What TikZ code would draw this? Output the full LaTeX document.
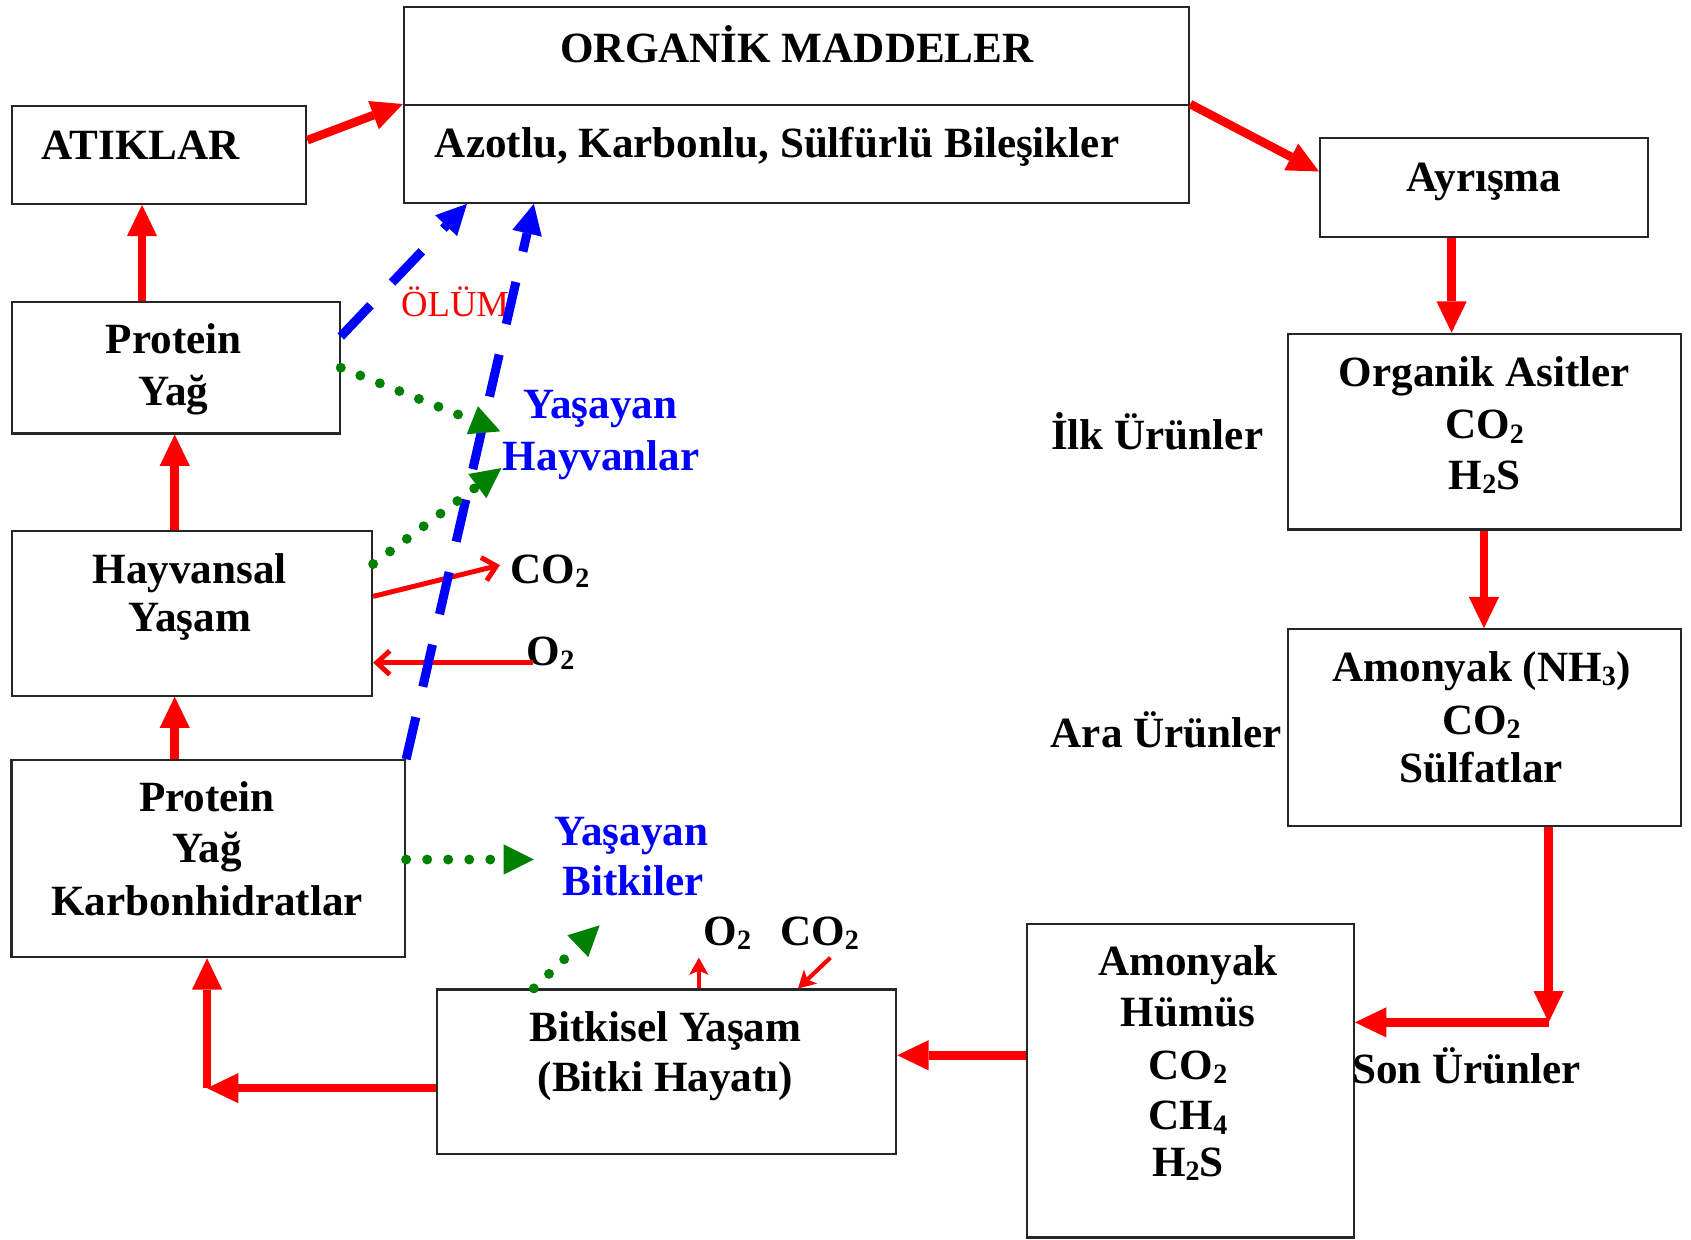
\documentclass[tikz,border=0pt]{standalone}
\usepackage{fontspec}
\setmainfont{Liberation Serif}
\usetikzlibrary{arrows.meta,fit}
\newcommand\chsub[1]{\raisebox{-2pt}{\fontsize{13pt}{13pt}\selectfont #1}}
\begin{document}
\begin{tikzpicture}[x=0.5pt,y=-0.5pt,
  box/.style={draw=black!85, line width=1pt, inner sep=0pt},
  lbl/.style={anchor=base, inner sep=0pt, font=\fontsize{20pt}{23pt}\selectfont\bfseries},
  lblw/.style={lbl, anchor=base west},
  blbl/.style={lbl, text=blue},
  redthick/.style={draw=red, line width=4pt, -{Triangle[length=14.5pt,width=14pt,line width=0pt]}},
  redthin/.style={draw=red, line width=2.3pt, -{Straight Barb[length=6pt,width=11pt]}},
  redsmall/.style={draw=red, line width=1.9pt, -{Stealth[length=8pt,width=9pt,inset=2pt,line width=0pt]}},
  bluedash/.style={draw=blue, line width=4.2pt, dash pattern=on 20pt off 14.5pt, -{Triangle[length=14pt,width=14pt,line width=0pt]}},
  greendot/.style={draw=green!50!black, line width=4.6pt, line cap=round, dash pattern=on 0pt off 9.75pt, -{Triangle[length=14pt,width=14pt,line width=0pt]}},
]
\fill[white] (0,0) rectangle (1568,1149);
\useasboundingbox (0,0) rectangle (1568,1149);

% boxes
\node[box, fit={(374.5,6.5) (1102.6,97.5)}] (orgA) {};
\node[box, fit={(374.5,97.5) (1102.6,188)}] (orgB) {};
\node[box, fit={(11,98) (284,189)}] (atik) {};
\node[box, fit={(1224,128) (1528,219.5)}] (ayr) {};
\node[box, fit={(1194.5,309.5) (1559,491)}] (oas) {};
\node[box, fit={(1194.5,583.5) (1559,766)}] (nh3) {};
\node[box, fit={(952,857) (1255.5,1147.5)}] (hum) {};
\node[box, fit={(405,917.5) (831,1070)}] (bit) {};
\node[box, fit={(10.7,705) (375.6,887.6)}] (pyk) {};
\node[box, fit={(11,492.5) (345,645)}] (hay) {};
\node[box, fit={(11,280) (315,402)}] (py) {};

% texts
\node[lbl] (tOrg) at (739,58) {ORGANİK MADDELER};
\node[lbl] (tAzot) at (720.5,146) {Azotlu, Karbonlu, Sülfürlü Bileşikler};
\node[lbl] (tAtik) at (130.7,148) {ATIKLAR};
\node[lbl] (tAyr) at (1376,178) {Ayrışma};
\node[lbl] (tOas1) at (1376.5,358) {Organik Asitler};
\node[lbl] (tOas2) at (1376.5,407) {CO\chsub{2}};
\node[lbl] (tOas3) at (1376.5,453.6) {H\chsub{2}S};
\node[lbl] (tIlk) at (1073,416.6) {İlk Ürünler};
\node[lbl] (tNh1) at (1373.6,632) {Amonyak (NH\chsub{3})};
\node[lbl] (tNh2) at (1373.6,681) {CO\chsub{2}};
\node[lbl] (tNh3) at (1373.6,726) {Sülfatlar};
\node[lbl] (tAra) at (1081.5,693) {Ara Ürünler};
\node[lbl] (tHu1) at (1101.5,905) {Amonyak};
\node[lbl] (tHu2) at (1101.5,952) {Hümüs};
\node[lbl] (tHu3) at (1101.5,1000.6) {CO\chsub{2}};
\node[lbl] (tHu4) at (1101.5,1047.8) {CH\chsub{4}};
\node[lbl] (tHu5) at (1101.5,1090.6) {H\chsub{2}S};
\node[lbl] (tSon) at (1360,1005) {Son Ürünler};
\node[lbl] (tBit1) at (617,966) {Bitkisel Yaşam};
\node[lbl] (tBit2) at (617,1012) {(Bitki Hayatı)};
\node[lbl] (tPk1) at (192,752.7) {Protein};
\node[lbl] (tPk2) at (192,800) {Yağ};
\node[lbl] (tPk3) at (192,848.5) {Karbonhidratlar};
\node[lbl] (tHay1) at (176,540.6) {Hayvansal};
\node[lbl] (tHay2) at (176,585.8) {Yaşam};
\node[lbl] (tPy1) at (161,327.6) {Protein};
\node[lbl] (tPy2) at (161,375.6) {Yağ};
\node[anchor=base, inner sep=0pt, text=red, font=\fontsize{17pt}{20pt}\selectfont] (tOlum) at (422,293.6) {ÖLÜM};
\node[blbl] (tYas1) at (557,387.8) {Yaşayan};
\node[blbl] (tHayv) at (557.5,436) {Hayvanlar};
\node[blbl] (tYas2) at (585.5,783.6) {Yaşayan};
\node[blbl] (tBitk) at (587,830) {Bitkiler};
\node[lblw] (tCOa) at (473,540.8) {CO\chsub{2}};
\node[lblw] (tO2a) at (488,616.7) {O\chsub{2}};
\node[lblw] (tO2b) at (652,876.3) {O\chsub{2}};
\node[lblw] (tCOb) at (723,876.3) {CO\chsub{2}};

% free ends
\coordinate (k1) at (1436,948);
\coordinate (k2) at (192,1009);
\coordinate (g1) at (464,400);
\coordinate (g2) at (465,434);
\coordinate (g3) at (495,797);
\coordinate (g4) at (556,858);

% thick red flow
\draw[redthick] (atik.east |- 0,130) -- (orgB.north west);
\draw[redthick] (orgB.north east) -- (ayr.west |- 0,159);
\draw[redthick] (ayr.south -| 1346,0) -- (oas.north -| 1346,0);
\draw[redthick] (oas.south -| 1376,0) -- (nh3.north -| 1376,0);
\draw[redthick] (nh3.south -| k1) -- (k1);
\draw[redthick] (k1) -- (hum.east |- k1);
\draw[redthick] (hum.west |- 0,978.5) -- (bit.east |- 0,978.5);
\draw[redthick] (bit.west |- k2) -- (k2);
\draw[redthick] (k2) -- (pyk.south -| k2);
\draw[redthick] (pyk.north -| 162,0) -- (hay.south -| 162,0);
\draw[redthick] (hay.north -| 162,0) -- (py.south -| 162,0);
\draw[redthick] (py.north -| 131.7,0) -- (atik.south -| 131.7,0);

% thin red
\draw[redthin] (hay.east |- 0,553) -- ([shift={(-9.4,-16.8)}]tCOa.base west);
\draw[redthin] ([shift={(6,-2.2)}]tO2a.base west) -- (hay.east |- 0,614.5);
\draw[redsmall] (bit.north -| 648,0) -- ([shift={(-4,11.7)}]tO2b.base west);
\draw[redsmall] ([shift={(47,11.7)}]tCOb.base west) -- (bit.north -| 740,0);

% blue dashed
\draw[bluedash] (py.east |- 0,312) -- (orgB.south -| 433,0);
\draw[bluedash] (pyk.north east) -- (orgB.south -| 495,0);

% green dotted
\draw[greendot] (py.east |- 0,341) -- (g1);
\draw[greendot] (hay.east |- 0,523) -- (g2);
\draw[greendot] (pyk.east |- 0,797) -- (g3);
\draw[greendot] (bit.north -| 495,0) -- (g4);
\end{tikzpicture}
\end{document}
